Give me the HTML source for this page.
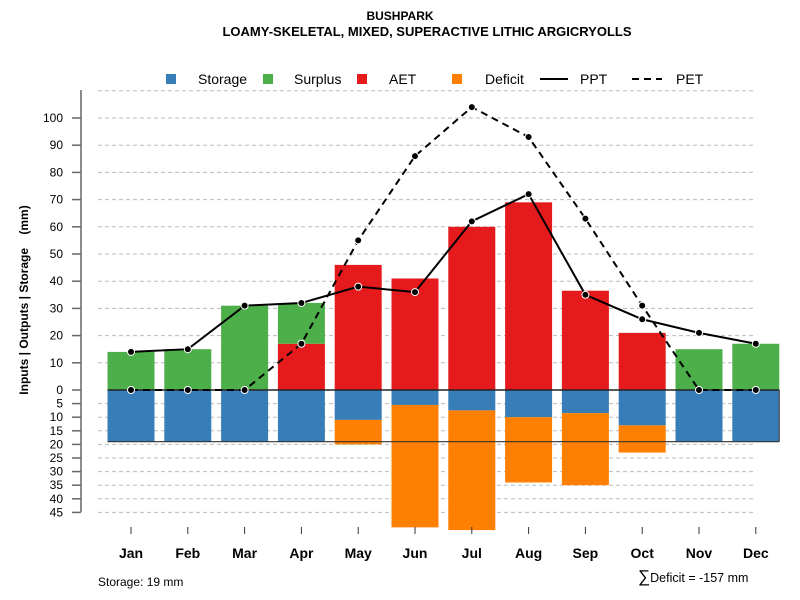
<!DOCTYPE html>
<html><head><meta charset="utf-8"><style>
body{margin:0;background:#fff;}
svg{display:block;font-family:"Liberation Sans",Arial,sans-serif;}
</style></head><body>
<svg id="c" width="800" height="600">
<text x="400" y="20" text-anchor="middle" font-size="12" font-weight="bold">BUSHPARK</text>
<text x="427" y="36" text-anchor="middle" font-size="13" font-weight="bold">LOAMY-SKELETAL, MIXED, SUPERACTIVE LITHIC ARGICRYOLLS</text>
<g>
<rect x="166" y="74" width="10" height="10" fill="#377eb8"/><text x="198" y="84" font-size="14">Storage</text>
<rect x="263" y="74" width="10" height="10" fill="#4daf4a"/><text x="294" y="84" font-size="14">Surplus</text>
<rect x="357" y="74" width="10" height="10" fill="#e41a1c"/><text x="389" y="84" font-size="14">AET</text>
<rect x="452" y="74" width="10" height="10" fill="#ff7f00"/><text x="485" y="84" font-size="14">Deficit</text>
<line x1="540" y1="79" x2="568" y2="79" stroke="#000" stroke-width="2"/><text x="580" y="84" font-size="14">PPT</text>
<line x1="632" y1="79" x2="662" y2="79" stroke="#000" stroke-width="2" stroke-dasharray="7,5"/><text x="676" y="84" font-size="14">PET</text>
</g>
<text transform="translate(28,300) rotate(-90)" text-anchor="middle" font-size="12" font-weight="bold">Inputs | Outputs | Storage&#160;&#160;&#160;&#160;(mm)</text>
<text x="98" y="586" font-size="12">Storage: 19 mm</text>
<text x="638" y="582" font-size="12.5"><tspan font-size="17">∑</tspan>Deficit = -157 mm</text>
<g id="plot"></g>
</svg>
<script>
const months=["Jan","Feb","Mar","Apr","May","Jun","Jul","Aug","Sep","Oct","Nov","Dec"];
const storage=[19,19,19,19,11,5.5,7.5,10,8.5,13,19,19];
const deficit=[0,0,0,0,9,45,44,24,26.5,10,0,0];
const aet=[0,0,0,17,46,41,60,69,36.5,21,0,0];
const surplus=[14,15,31,15,0,0,0,0,0,0,15,17];
const ppt=[14,15,31,32,38,36,62,72,35,26,21,17];
const pet=[0,0,0,17,55,86,104,93,63,31,0,0];
const posTicks=[0,10,20,30,40,50,60,70,80,90,100];
const negTicks=[5,10,15,20,25,30,35,40,45];
const soilCap=19;
const NS="http://www.w3.org/2000/svg";
const g=document.getElementById('plot');
const y=v=>390-v*2.72;
const x=i=>131+i*56.8;
const bw=47;
function el(t,a,p){const e=document.createElementNS(NS,t);for(const k in a)e.setAttribute(k,a[k]);(p||g).appendChild(e);return e;}
const gl=[110,...posTicks.filter(v=>v>0),...negTicks.map(v=>-v)];
gl.forEach(v=>{const l=el('line',{x1:98,x2:755,y1:y(v),y2:y(v),stroke:'#bbb','stroke-dasharray':'4,3'});

});
const ax=el('line',{x1:81,x2:81,y1:90,y2:512,stroke:'#666','stroke-width':1.5});


posTicks.forEach(v=>{el('line',{x1:72,x2:81,y1:y(v),y2:y(v),stroke:'#666','stroke-width':1.5});
const t=el('text',{x:63,y:y(v)+4,'text-anchor':'end','font-size':12});t.textContent=v;

});
negTicks.forEach(v=>{el('line',{x1:72,x2:81,y1:y(-v),y2:y(-v),stroke:'#666','stroke-width':1.5});
const t=el('text',{x:63,y:y(-v)+4,'text-anchor':'end','font-size':12});t.textContent=v;

});
months.forEach((m,i)=>{
 const l=x(i)-bw/2;
 const b1=el('rect',{x:l,y:y(0),width:bw,height:y(-storage[i])-y(0),fill:'#377eb8'});
 
 
 if(deficit[i]>0){const b=el('rect',{x:l,y:y(-storage[i]),width:bw,height:y(-storage[i]-deficit[i])-y(-storage[i]),fill:'#ff7f00'});
 
 }
 if(aet[i]>0){const b=el('rect',{x:l,y:y(aet[i]),width:bw,height:y(0)-y(aet[i]),fill:'#e41a1c'});
 
 }
 if(surplus[i]>0){const b=el('rect',{x:l,y:y(aet[i]+surplus[i]),width:bw,height:y(aet[i])-y(aet[i]+surplus[i]),fill:'#4daf4a'});
 
 }
 el('line',{x1:x(i),x2:x(i),y1:527,y2:534,stroke:'#333','stroke-width':1});
 const t=el('text',{x:x(i),y:558,'text-anchor':'middle','font-size':14,'font-weight':'bold'});t.textContent=m;
 
 
});
el('line',{x1:x(0)-bw/2,x2:x(11)+bw/2,y1:y(0),y2:y(0),stroke:'#222','stroke-width':1.5});
el('line',{x1:x(0)-bw/2,x2:x(11)+bw/2,y1:y(-soilCap),y2:y(-soilCap),stroke:'#333','stroke-width':1.2});
el('line',{x1:x(11)+bw/2,x2:x(11)+bw/2,y1:y(0),y2:y(-soilCap),stroke:'#333','stroke-width':1});
function series(arr,name,dash){
 const p=el('polyline',{points:arr.map((v,i)=>x(i)+','+y(v)).join(' '),fill:'none',stroke:'#000','stroke-width':2,'stroke-dasharray':dash||'none'});
 
 
 arr.forEach((v,i)=>{const c=el('circle',{cx:x(i),cy:y(v),r:3.5,fill:'#000',stroke:'#fff','stroke-width':1});
 
 });
}
series(pet,'pet','7,5');
series(ppt,'ppt');
</script>
</body></html>
